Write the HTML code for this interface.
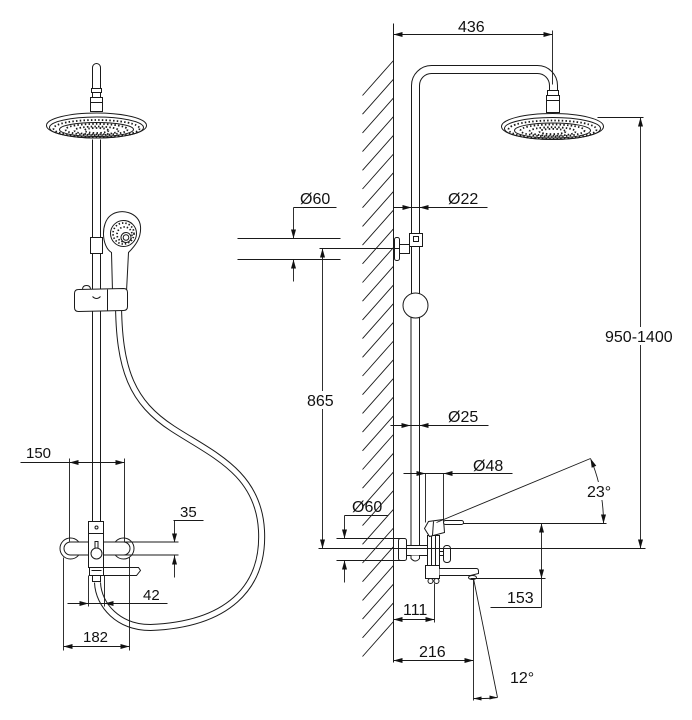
<!DOCTYPE html>
<html><head><meta charset="utf-8"><style>
html,body{margin:0;padding:0;background:#fff;}
svg{display:block;}
text{font-family:"Liberation Sans",Arial,sans-serif;fill:#111;}
</style></head><body>
<svg width="692" height="720" viewBox="0 0 692 720" xmlns="http://www.w3.org/2000/svg">
<rect x="0" y="0" width="692" height="720" fill="#fff"/>
<g transform="translate(0.5,0.5)" fill="none" stroke="#1a1a1a" stroke-width="1">

<!-- ================= LEFT VIEW ================= -->
<!-- top rod -->
<path d="M92,98 V67 A4,4 0 0 1 100,67 V98" fill="#fff"/>
<rect x="91" y="88" width="10" height="4" fill="#fff"/>
<rect x="90" y="97" width="12" height="5" fill="#fff"/>
<rect x="90" y="102" width="12" height="9" fill="#fff"/>
<!-- left head -->
<ellipse cx="96" cy="125" rx="50" ry="12.5" fill="#fff"/>
<ellipse cx="96" cy="127" rx="47" ry="10.5"/>
<ellipse cx="96" cy="128" rx="43" ry="8.5" stroke-dasharray="1.5 2.2" stroke-width="1.8"/>
<ellipse cx="96" cy="129" rx="37" ry="7"/>
<ellipse cx="96" cy="129" rx="31" ry="5.6" stroke-dasharray="1.5 2.2" stroke-width="1.8"/>
<ellipse cx="96" cy="130" rx="22" ry="4" stroke-dasharray="1.5 2.2" stroke-width="1.8"/>
<ellipse cx="96" cy="130" rx="12" ry="2.5" stroke-dasharray="1.5 2.2" stroke-width="1.8"/>

<!-- pole -->
<path d="M92,139 V237 M100,139 V237"/>
<rect x="90" y="237" width="12" height="16" fill="#fff"/>
<path d="M92,253 V521 M100,253 V521"/>

<!-- hose -->
<path d="M118,300 C118,370 132,402 172,428 S258,472 261,530 S226,624 150,627 C118,627 98,605 97,582" stroke="#1a1a1a" stroke-width="7"/>
<path d="M118,300 C118,370 132,402 172,428 S258,472 261,530 S226,624 150,627 C118,627 98,605 97,582" stroke="#fff" stroke-width="5"/>

<!-- hand shower -->
<path d="M112,291 L111,252 C101,246 100,223 110,215 C120,207 139,212 140,226 C141,238 134,246 128,252 L126,291" fill="#fff"/>
<circle cx="123" cy="233" r="13"/>
<circle cx="123" cy="233" r="10.5" stroke-dasharray="1.4 2" stroke-width="1.7"/>
<circle cx="124" cy="234" r="7.5" stroke-dasharray="1.4 2" stroke-width="1.7"/>
<circle cx="125.5" cy="237" r="5" fill="#fff"/>
<circle cx="125.5" cy="237" r="2.8"/>

<!-- bracket -->
<path d="M82,289 Q82,285 86,285 Q90,285 90,289"/>
<path d="M74,293 Q74,289 78,289 L123,288 Q127,288 127,292 L127,306 Q127,310 123,310 L78,311 Q74,311 74,307 Z" fill="#fff"/>
<path d="M107,289 V310 M92,296 Q96,300 100,296"/>

<!-- left mixer -->
<circle cx="70" cy="548" r="10.5" fill="#fff"/>
<circle cx="123" cy="548" r="10.5" fill="#fff"/>
<path d="M88,541.5 H70 A6.5,6.5 0 0 0 70,554.5 H88" fill="#fff"/>
<path d="M103,541.5 H123 A6.5,6.5 0 0 1 123,554.5 H103" fill="#fff"/>
<path d="M123,541.5 H178 M123,554.5 H178"/>
<rect x="88" y="521" width="15" height="46" fill="#fff"/>
<path d="M88,533 H103"/>
<circle cx="96" cy="527" r="1.5"/>
<rect x="94.5" y="541" width="3" height="8" fill="#fff"/>
<circle cx="96" cy="553" r="5.5" fill="#fff"/>
<path d="M103,567 H138 L140,570 L136,575 H103" fill="#fff"/>
<rect x="89" y="567" width="14" height="8" fill="#fff"/>
<path d="M91,570 H101"/>
<rect x="92" y="575" width="8" height="6" fill="#fff"/>

<!-- left dimensions -->
<path d="M20,462 H124 M69,458 V541 M124,458 V541" stroke-width="0.9"/>
<path d="M173,520 H203 M174,520 V542 M174,555 V577" stroke-width="0.9"/>
<path d="M67,603 H167 M88,575 V606 M104,575 V606" stroke-width="0.9"/>
<path d="M63,646 H129 M63,557 V650 M129,557 V650" stroke-width="0.9"/>

<!-- ================= RIGHT VIEW ================= -->
<!-- wall -->
<path d="M393,23 V662"/>
<path d="M362,95L393,60M362,113.7L393,78.7M362,132.4L393,97.4M362,151.1L393,116.1M362,169.8L393,134.8M362,188.5L393,153.5M362,207.2L393,172.2M362,225.9L393,190.9M362,244.6L393,209.6M362,263.3L393,228.3M362,282L393,247M362,300.7L393,265.7M362,319.4L393,284.4M362,338.1L393,303.1M362,356.8L393,321.8M362,375.5L393,340.5M362,394.2L393,359.2M362,412.9L393,377.9M362,431.6L393,396.6M362,450.3L393,415.3M362,469L393,434M362,487.7L393,452.7M362,506.4L393,471.4M362,525.1L393,490.1M362,543.8L393,508.8M362,562.5L393,527.5M362,581.2L393,546.2M362,599.9L393,564.9M362,618.6L393,583.6M362,637.3L393,602.3M362,656L393,621" stroke-width="0.9"/>

<!-- shower arm -->
<path d="M411,233 V85 A20,20 0 0 1 431,65 H537 A20,20 0 0 1 557,85 V90"/>
<path d="M419,233 V85 A12,12 0 0 1 431,73 H537 A12,12 0 0 1 549,85 V90"/>
<rect x="547" y="90" width="11" height="5" fill="#fff"/>
<rect x="546" y="95" width="13" height="17" fill="#fff"/>
<path d="M546,100 H559"/>
<!-- right head -->
<ellipse cx="552" cy="126" rx="51" ry="13" fill="#fff"/>
<ellipse cx="552" cy="128" rx="48" ry="11"/>
<ellipse cx="552" cy="129" rx="44" ry="9" stroke-dasharray="1.5 2.2" stroke-width="1.8"/>
<ellipse cx="552" cy="130" rx="38" ry="7.5"/>
<ellipse cx="552" cy="130" rx="32" ry="6" stroke-dasharray="1.5 2.2" stroke-width="1.8"/>
<ellipse cx="552" cy="131" rx="23" ry="4.3" stroke-dasharray="1.5 2.2" stroke-width="1.8"/>
<ellipse cx="552" cy="131" rx="13" ry="2.6" stroke-dasharray="1.5 2.2" stroke-width="1.8"/>

<!-- bracket on wall -->
<rect x="394" y="237" width="5" height="23" rx="2" fill="#fff"/>
<rect x="399" y="244" width="10" height="9" fill="#fff"/>
<rect x="409" y="233" width="13" height="13" fill="#fff"/>
<rect x="413" y="236" width="5" height="5"/>
<path d="M411,246 V293 M419,246 V293"/>
<circle cx="415" cy="305" r="12.5" fill="#fff"/>
<path d="M410.5,317 V545 M419,317 V545"/>

<!-- right mixer -->
<rect x="398" y="538" width="8" height="22" rx="2" fill="#fff"/>
<rect x="406" y="545" width="21" height="10" fill="#fff"/>
<path d="M410.5,555 V558 Q415,563 419,558 V555" fill="#fff"/>
<rect x="427" y="535" width="12" height="30" fill="#fff"/>
<path d="M431,535 V565 M435,535 V565"/>
<path d="M424,528 L428,521 L443,519 L444,532 L429,536 Z" fill="#fff"/>
<path d="M433,521 L432,535"/>
<rect x="443" y="520" width="20" height="4" rx="2" fill="#fff"/>
<rect x="439" y="551" width="4" height="4" fill="#fff"/>
<rect x="443" y="545" width="7" height="17" rx="3" fill="#fff"/>
<rect x="425" y="565" width="14" height="13" fill="#fff"/>
<path d="M439,568 H476 Q478,568 478,571 V573 L470,575 H439" fill="#fff"/>
<ellipse cx="472" cy="577" rx="4" ry="2" fill="#fff"/>
<circle cx="430" cy="580.5" r="2.5" fill="#fff"/>
<circle cx="436" cy="580.5" r="2.5" fill="#fff"/>

<!-- right dimension lines -->
<g stroke-width="0.9">
<path d="M393,34 H552 M552,30 V84"/>
<path d="M293,207 H336 M293,207 V238 M293,259 V281 M237,238 H340 M237,259 H340"/>
<path d="M393,207 H487"/>
<path d="M319,248 H399 M322,248 V548"/>
<path d="M597,117 H643 M640,117 V548"/>
<path d="M318,548 H645"/>
<path d="M390,425 H488"/>
<path d="M403,473 H512 M425,473 V522 M443,473 V519"/>
<path d="M436,522 L590,458 M463,523 H606"/>
<path d="M590,458 A165,165 0 0 1 603,523"/>
<path d="M470,578 H545 M541,523 V607 M490,607 H541"/>
<path d="M344,515 H388 M344,515 V538 M344,560 V582 M336,538 H400 M336,560 H400"/>
<path d="M393,619 H434 M434,583 V622"/>
<path d="M393,660 H473 M473,578 V700"/>
<path d="M473,578 L497,697 M473,698 Q485,698.5 497,697"/>
</g>
</g>

<!-- arrowheads -->
<g fill="#111" stroke="none" transform="translate(0.5,0.5)">
<polygon points="69,462 78,459.5 78,464.5"/>
<polygon points="124,462 115,459.5 115,464.5"/>
<polygon points="174,542 171.5,533 176.5,533"/>
<polygon points="174,555 171.5,564 176.5,564"/>
<polygon points="88,603 79,600.5 79,605.5"/>
<polygon points="104,603 113,600.5 113,605.5"/>
<polygon points="63,646 72,643.5 72,648.5"/>
<polygon points="129,646 120,643.5 120,648.5"/>
<polygon points="393,34 402,31.5 402,36.5"/>
<polygon points="552,34 543,31.5 543,36.5"/>
<polygon points="293,238 290.5,229 295.5,229"/>
<polygon points="293,259 290.5,268 295.5,268"/>
<polygon points="411,207 402,204.5 402,209.5"/>
<polygon points="419,207 428,204.5 428,209.5"/>
<polygon points="322,248 319.5,257 324.5,257"/>
<polygon points="322,548 319.5,539 324.5,539"/>
<polygon points="640,117 637.5,126 642.5,126"/>
<polygon points="640,548 637.5,539 642.5,539"/>
<polygon points="410,425 401,422.5 401,427.5"/>
<polygon points="419,425 428,422.5 428,427.5"/>
<polygon points="425,473 416,470.5 416,475.5"/>
<polygon points="443,473 452,470.5 452,475.5"/>
<polygon points="590,458 595.8,465.3 591.2,467.3"/>
<polygon points="603,523 600.5,514 605.5,514"/>
<polygon points="541,523 538.5,532 543.5,532"/>
<polygon points="541,578 538.5,569 543.5,569"/>
<polygon points="344,538 341.5,529 346.5,529"/>
<polygon points="344,560 341.5,569 346.5,569"/>
<polygon points="393,619 402,616.5 402,621.5"/>
<polygon points="434,619 425,616.5 425,621.5"/>
<polygon points="393,660 402,657.5 402,662.5"/>
<polygon points="473,660 464,657.5 464,662.5"/>
<polygon points="473,698 481,696 481,700"/>
<polygon points="497,697 489,695 489,699"/>
</g>

<!-- text backgrounds -->
<rect x="305" y="391" width="33" height="18" fill="#fff"/>
<rect x="603" y="327" width="72" height="18" fill="#fff"/>
<rect x="585" y="482" width="28" height="18" fill="#fff"/>

<!-- labels -->
<g font-size="15">
<text x="26" y="458">150</text>
<text x="180" y="517">35</text>
<text x="143" y="600">42</text>
<text x="83" y="642">182</text>
</g>
<g font-size="16">
<text x="458" y="32">436</text>
<text x="300" y="204">Ø60</text>
<text x="448" y="204">Ø22</text>
<text x="307" y="406">865</text>
<text x="605" y="342">950-1400</text>
<text x="448" y="422">Ø25</text>
<text x="473" y="471">Ø48</text>
<text x="587" y="497">23°</text>
<text x="352" y="512">Ø60</text>
<text x="507" y="603">153</text>
<text x="403" y="615">111</text>
<text x="419" y="657">216</text>
<text x="510" y="683">12°</text>
</g>
</svg>
</body></html>
